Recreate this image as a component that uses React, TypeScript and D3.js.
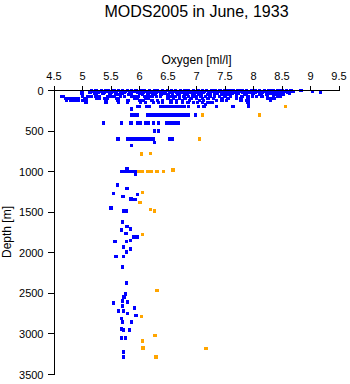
import React from "react";
import * as d3 from "d3";

const title = "MODS2005 in June, 1933";
const xLabel = "Oxygen [ml/l]";
const yLabel = "Depth [m]";
const xTicks = [4.5, 5, 5.5, 6, 6.5, 7, 7.5, 8, 8.5, 9, 9.5];
const yTicks = [0, 500, 1000, 1500, 2000, 2500, 3000, 3500];

// blue: accepted observations, rows of [depth, oxygen values]
const blueRows: [number, number[]][] = [
  [0, [5.16, 5.24, 5.33, 5.41, 5.46, 5.55, 5.63, 5.7, 5.79, 5.86, 5.94, 6.03, 6.09, 6.18, 6.26, 6.31, 6.4, 6.49, 6.56, 6.63, 6.72, 6.8, 6.86, 6.95, 7.03, 7.1, 7.18, 7.27, 7.33, 7.41, 7.5, 7.57, 7.64, 7.73, 7.8, 7.88, 7.96, 8.04, 8.11, 8.19, 8.27, 8.34, 8.43, 8.5, 8.58, 8.66, 8.83]],
  [10, [5.19, 5.3, 5.44, 5.52, 5.67, 5.75, 5.9, 5.99, 6.13, 6.22, 6.36, 6.44, 6.6, 6.68, 6.83, 6.91, 7.06, 7.14, 7.3, 7.38, 7.53, 7.61, 7.76, 7.84, 7.99, 8.08, 8.22, 8.31, 8.46, 8.55, 8.69, 9.03]],
  [20, [5.13, 5.27, 5.38, 5.5, 5.6, 5.73, 5.83, 5.96, 6.06, 6.2, 6.29, 6.42, 6.53, 6.65, 6.76, 6.88, 6.99, 7.12, 7.22, 7.35, 7.45, 7.58, 7.68, 7.81, 7.92, 8.03, 8.15, 8.25, 8.38, 8.48, 8.6, 9.18]],
  [30, [4.99, 5.22, 5.36, 5.58, 5.69, 5.85, 6.0, 6.15, 6.27, 6.45, 6.58, 6.7, 6.84, 6.97, 7.08, 7.25, 7.36, 7.48, 7.62, 7.74, 7.87, 8.0, 8.13, 8.3, 8.41, 8.52, 8.63]],
  [50, [5.25, 5.48, 5.62, 5.81, 6.05, 6.24, 6.38, 6.5, 6.67, 6.8, 6.93, 7.04, 7.2, 7.32, 7.44, 7.55, 7.7, 7.85, 7.98, 8.1, 8.24, 8.36, 8.45, 8.53]],
  [75, [4.63, 4.67, 5.0, 5.09, 5.15, 5.24, 5.3, 5.45, 5.5, 5.56, 5.67, 5.74, 5.86, 5.92, 5.98, 6.09, 6.15, 6.22, 6.3, 6.37, 6.49, 6.55, 6.62, 6.7, 6.78, 6.86, 6.94, 7.0, 7.08, 7.16, 7.24, 7.32, 7.4, 7.5, 7.6, 7.7, 7.8, 7.9, 7.98, 8.05, 8.15, 8.25, 8.35, 8.42, 8.47]],
  [100, [4.7, 4.76, 4.82, 4.88, 4.93, 5.03, 5.07, 5.25, 5.29, 5.39, 5.44, 5.6, 5.63, 5.92, 5.97, 6.1, 6.16, 6.5, 6.6, 6.7, 6.8, 6.9, 7.0, 7.1, 7.2, 7.3, 7.45, 7.55, 7.7, 7.78, 7.9, 8.25, 8.3, 8.36]],
  [125, [4.72, 4.8, 4.87, 4.93, 5.0, 5.06, 5.41, 5.62, 5.8, 6.0, 6.06, 6.22, 6.32, 6.4, 6.55, 6.65, 6.75, 6.88, 7.05, 7.12, 7.35, 7.45, 7.53, 7.78, 7.88, 7.91, 8.3]],
  [150, [5.06, 5.41, 5.63, 5.79, 6.02, 6.1, 6.25, 6.33, 6.4, 6.55, 6.65, 6.75, 6.85, 6.95, 7.02, 7.1, 7.2, 7.27, 7.9]],
  [175, [7.16, 7.91]],
  [200, [5.96, 6.0, 6.13, 6.18, 6.37, 6.41, 6.48, 6.55, 6.59, 6.64, 6.68, 6.73, 6.78, 6.86, 7.03, 7.13, 7.35, 7.64, 7.91]],
  [230, [5.86]],
  [300, [5.87, 5.92, 5.96, 6.14, 6.18, 6.21, 6.25, 6.3, 6.35, 6.41, 6.46, 6.52, 6.58, 6.64, 6.67, 6.72, 6.78, 6.83, 6.86, 6.98]],
  [400, [5.37, 5.68, 5.85, 5.96, 6.02, 6.1, 6.16, 6.25, 6.33, 6.47, 6.53, 6.58, 6.63, 6.68]],
  [500, [6.26, 6.33]],
  [600, [5.62, 5.8, 5.86, 5.92, 5.98, 6.03, 6.08, 6.15, 6.19, 6.25, 6.53, 6.57]],
  [640, [6.26]],
  [675, [5.86]],
  [960, [5.78]],
  [1000, [5.69, 5.74, 5.8, 5.86, 5.92, 5.97]],
  [1030, [5.93]],
  [1166, [5.61]],
  [1211, [5.78]],
  [1269, [5.54]],
  [1285, [5.96]],
  [1310, [5.71]],
  [1338, [5.85]],
  [1346, [5.92]],
  [1450, [5.5]],
  [1486, [5.73, 5.77]],
  [1621, [5.7]],
  [1679, [5.78]],
  [1707, [5.84]],
  [1720, [5.68]],
  [1761, [5.76]],
  [1806, [5.9, 5.96]],
  [1849, [5.84]],
  [1863, [5.57, 5.77]],
  [1929, [5.72]],
  [1953, [5.84]],
  [1990, [5.77]],
  [2048, [5.59, 5.72]],
  [2175, [5.7]],
  [2371, [5.77]],
  [2507, [5.75]],
  [2543, [5.73]],
  [2593, [5.7]],
  [2605, [5.79]],
  [2617, [5.54]],
  [2654, [5.7]],
  [2679, [5.91]],
  [2716, [5.63, 5.72]],
  [2745, [5.79]],
  [2770, [5.94]],
  [2807, [5.68]],
  [2851, [5.7, 5.86]],
  [2937, [5.68]],
  [2950, [5.72, 5.82]],
  [3048, [5.68, 5.75]],
  [3225, [5.72]],
  [3282, [5.72]],
];

// orange: flagged observations [oxygen, depth]
const orangePoints: [number, number][] = [
  [8.56, 200], [7.11, 300], [8.1, 300], [7.05, 600], [6.03, 785], [6.19, 780],
  [5.99, 1000], [6.05, 1000], [6.14, 1000], [6.2, 1000], [6.31, 1000], [6.42, 1000], [6.59, 980],
  [6.05, 1255], [6.01, 1380], [6.19, 1470], [6.26, 1486], [6.05, 1775], [6.31, 2465],
  [6.03, 2782], [6.27, 3023], [6.05, 3085], [6.06, 3171], [7.17, 3183], [6.29, 3282],
];

const bluePoints: [number, number][] = blueRows.flatMap(([d, vals]) =>
  vals.map((v) => [v, d] as [number, number])
);

export default function App() {
  const W = 350, H = 384;
  const x = d3.scaleLinear().domain([4.5, 9.5]).range([54, 339]);
  const y = d3.scaleLinear().domain([0, 3500]).range([90.5, 374.5]);
  const s = 3.4;
  const font = "Liberation Sans, Arial, Helvetica, sans-serif";
  return (
    <svg width={W} height={H} style={{ position: "absolute", left: 0, top: 0, background: "#fff" }} fontFamily={font}>
      <rect x={0} y={0} width={W} height={H} fill="#fff" />
      <text x={196.5} y={16.5} textAnchor="middle" fontSize={16}>{title}</text>
      <text x={196.5} y={64} textAnchor="middle" fontSize={12}>{xLabel}</text>
      <text transform={`translate(11,232) rotate(-90)`} textAnchor="middle" fontSize={12}>{yLabel}</text>
      <g shapeRendering="crispEdges">
        {bluePoints.map(([v, d], i) => (
          <rect key={"b" + i} x={x(v) - s / 2} y={y(d) - s / 2} width={s} height={s} fill="#0000ff" />
        ))}
        {orangePoints.map(([v, d], i) => (
          <rect key={"o" + i} x={x(v) - s / 2} y={y(d) - s / 2} width={s} height={s} fill="#ffa500" />
        ))}
      </g>
      <g stroke="#000" strokeWidth={1} shapeRendering="crispEdges">
        <line x1={x(4.5)} x2={x(9.5)} y1={y(0)} y2={y(0)} />
        <line x1={x(4.5)} x2={x(4.5)} y1={y(0)} y2={y(3500)} />
        {xTicks.map((t) => (
          <line key={"xt" + t} x1={x(t)} x2={x(t)} y1={y(0)} y2={y(0) - 5} />
        ))}
        {yTicks.map((t) => (
          <line key={"yt" + t} x1={x(4.5) - 6} x2={x(4.5)} y1={y(t)} y2={y(t)} />
        ))}
      </g>
      {xTicks.map((t) => (
        <text key={"xl" + t} x={x(t)} y={80} textAnchor="middle" fontSize={11}>{String(t)}</text>
      ))}
      {yTicks.map((t) => (
        <text key={"yl" + t} x={43.5} y={y(t) + 4} textAnchor="end" fontSize={11}>{String(t)}</text>
      ))}
    </svg>
  );
}
